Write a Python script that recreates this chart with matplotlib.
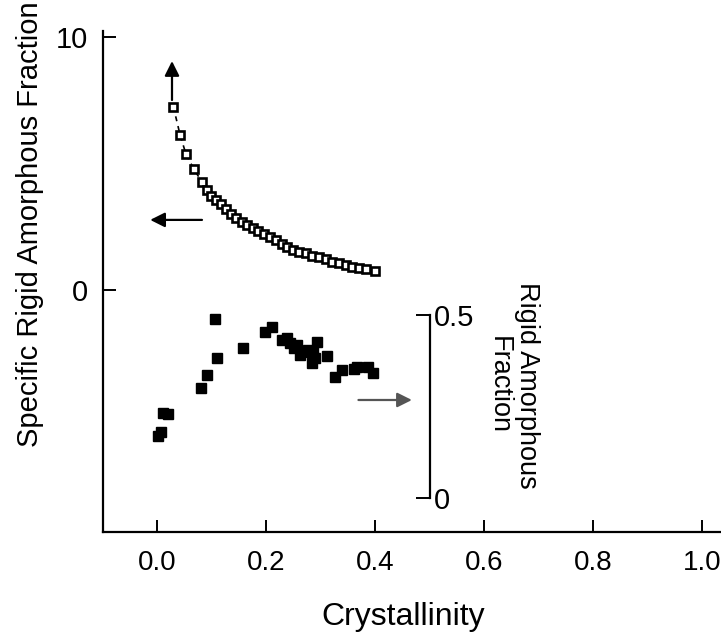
import matplotlib
matplotlib.use("Agg")
import matplotlib.pyplot as plt

plt.rcParams['font.family'] = ['Liberation Sans', 'DejaVu Sans']

# Specific rigid amorphous fraction (left axis, open squares)
cryst_open = [0.0305, 0.0428, 0.0538, 0.0684, 0.0826, 0.0917, 0.0991, 0.1083, 0.1180,
              0.1272, 0.1358, 0.1455, 0.1560, 0.1662, 0.1772, 0.1864, 0.1969, 0.2079,
              0.2185, 0.2294, 0.2396, 0.2506, 0.2617, 0.2739, 0.2855, 0.2978, 0.3101,
              0.3222, 0.3345, 0.3468, 0.3589, 0.3712, 0.3840, 0.4006]
specific_raf = [7.25, 6.13, 5.36, 4.77, 4.28, 3.95, 3.73, 3.56, 3.39,
                3.19, 3.00, 2.83, 2.68, 2.55, 2.44, 2.33, 2.21, 2.11,
                1.96, 1.82, 1.69, 1.58, 1.51, 1.45, 1.36, 1.29, 1.21,
                1.12, 1.06, 0.99, 0.92, 0.86, 0.82, 0.75]

# Rigid amorphous fraction (right axis, filled squares)
cryst_filled = [0.003, 0.008, 0.011, 0.021, 0.081, 0.092, 0.110, 0.107, 0.158,
                0.199, 0.211, 0.229, 0.239, 0.245, 0.251, 0.257, 0.263, 0.272,
                0.278, 0.284, 0.287, 0.290, 0.294, 0.312, 0.327, 0.339, 0.361,
                0.367, 0.388, 0.397]
raf = [0.169, 0.180, 0.231, 0.229, 0.301, 0.335, 0.383, 0.489, 0.411,
       0.454, 0.468, 0.432, 0.436, 0.423, 0.409, 0.418, 0.391, 0.400,
       0.404, 0.368, 0.399, 0.382, 0.427, 0.388, 0.330, 0.350, 0.352,
       0.357, 0.359, 0.341]

x_ticks = [0.0, 0.2, 0.4, 0.6, 0.8, 1.0]
x_ticklabels = ['0.0', '0.2', '0.4', '0.6', '0.8', '1.0']
y_ticks = [0, 10]
y2_ticks = [0, 0.5]
y2_ticklabels = ['0', '0.5']

fig = plt.figure(figsize=(7.21, 6.32), dpi=100)
ax = fig.add_axes([0.1429, 0.1582, 1.0 - 0.1429, 0.9514 - 0.1582])

ax.set_xlim(-0.0985, 1.035)
ax.set_ylim(-9.57, 10.25)

ax.plot(cryst_open, specific_raf, linestyle=(0, (3, 3)), color='black', lw=1.2,
        marker='s', markersize=5.6, markerfacecolor='white',
        markeredgecolor='black', markeredgewidth=1.9, zorder=3)

for s in ['top', 'right']:
    ax.spines[s].set_visible(False)
for s in ['left', 'bottom']:
    ax.spines[s].set_linewidth(1.6)

ax.set_xticks(x_ticks)
ax.set_xticklabels(x_ticklabels)
ax.set_yticks(y_ticks)
ax.tick_params(axis='x', direction='in', length=9, width=1.4, labelsize=20, pad=13)
ax.tick_params(axis='y', direction='in', length=9, width=1.4, labelsize=21, pad=11)

# arrows
arrow_kw = dict(arrowstyle='-|>', mutation_scale=22, lw=1.6, color='black',
                shrinkA=0, shrinkB=0)
ax.annotate('', xy=(0.028, 9.05), xytext=(0.028, 7.51), arrowprops=arrow_kw)
ax.annotate('', xy=(-0.012, 2.77), xytext=(0.083, 2.77), arrowprops=arrow_kw)
arrow_kw2 = dict(arrow_kw)
arrow_kw2['color'] = '#555555'
ax.annotate('', xy=(0.468, -4.35), xytext=(0.370, -4.35), arrowprops=arrow_kw2)

# right axis
ax2 = ax.twinx()
ax2.set_ylim(-0.0929, 1.277)
ax2.plot(cryst_filled, raf, linestyle='none', marker='s', markersize=7.8,
         color='black', zorder=3)
for s in ['top', 'left', 'bottom']:
    ax2.spines[s].set_visible(False)
ax2.spines['right'].set_position(('data', 0.501))
ax2.spines['right'].set_bounds(0, 0.5)
ax2.spines['right'].set_linewidth(1.6)
ax2.set_yticks(y2_ticks)
ax2.set_yticklabels(y2_ticklabels)
ax2.tick_params(axis='y', direction='in', length=10, width=1.4, labelsize=21, pad=3)

# labels
fig.text(30 / 721, 1 - 224 / 632, 'Specific Rigid Amorphous Fraction', rotation=90,
         ha='center', va='center', fontsize=21)
fig.text(403 / 721, 1 - 617 / 632, 'Crystallinity', ha='center', va='center', fontsize=23)
fig.text(513 / 721, 1 - 385 / 632, 'Rigid Amorphous\nFraction', rotation=270,
         ha='center', va='center', multialignment='center', fontsize=19.5, linespacing=1.15)

fig.savefig('out.png', dpi=100)
